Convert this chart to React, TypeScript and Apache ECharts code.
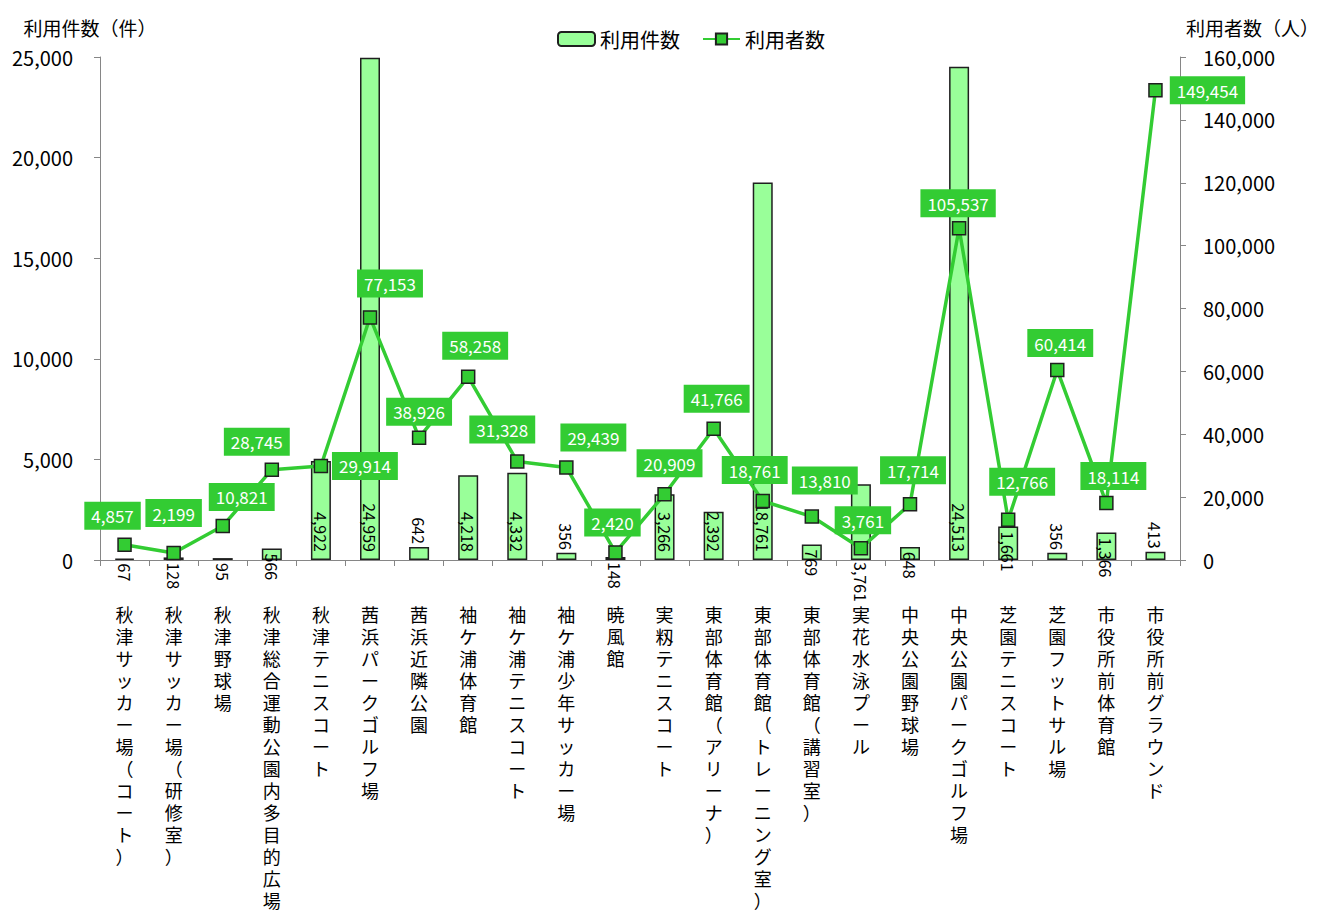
import React, { useEffect, useRef } from 'react';
import * as echarts from 'echarts';

const categories = [
  '秋津サッカー場（コート）',
  '秋津サッカー場（研修室）',
  '秋津野球場',
  '秋津総合運動公園内多目的広場',
  '秋津テニスコート',
  '茜浜パークゴルフ場',
  '茜浜近隣公園',
  '袖ケ浦体育館',
  '袖ケ浦テニスコート',
  '袖ケ浦少年サッカー場',
  '暁風館',
  '実籾テニスコート',
  '東部体育館（アリーナ）',
  '東部体育館（トレーニング室）',
  '東部体育館（講習室）',
  '実花水泳プール',
  '中央公園野球場',
  '中央公園パークゴルフ場',
  '芝園テニスコート',
  '芝園フットサル場',
  '市役所前体育館',
  '市役所前グラウンド',
];

const usageCount = [67, 128, 95, 566, 4922, 24959, 642, 4218, 4332, 356, 148, 3266, 2392, 18761, 769, 3761, 648, 24513, 1661, 356, 1366, 413];

const userCount = [4857, 2199, 10821, 28745, 29914, 77153, 38926, 58258, 31328, 29439, 2420, 20909, 41766, 18761, 13810, 3761, 17714, 105537, 12766, 60414, 18114, 149454];

const leftAxisName = '利用件数（件）';
const rightAxisName = '利用者数（人）';
const barSeriesName = '利用件数';
const lineSeriesName = '利用者数';
const leftMax = 25000;
const leftInterval = 5000;
const rightMax = 160000;
const rightInterval = 20000;

// label placement (layout only)
const barLabelMode = ['down', 'down', 'down', 'down', 'in', 'in', 'up', 'in', 'in', 'up', 'down', 'in', 'in', 'in', 'down', 'below', 'down', 'in', 'down', 'up', 'down', 'up'];
const lineLabelOffset: [number, number][] = [
  [-12, -29], [0, -40], [19, -29], [-15, -28], [44, 0], [20, -34], [0, -26], [7, -31], [-15, -32], [27, -30], [-3, -30],
  [5, -31], [3, -30], [-8, -31], [13, -36], [2, -28], [3, -34], [-1, -25], [14, -38], [3, -27], [7, -27], [52, 0],
];

const FONT = '"Noto Sans CJK JP", "Noto Sans", sans-serif';
const CAT_FONT = '"Liberation Sans", "Noto Sans CJK JP", sans-serif';
const fmt = (v: number) => v.toLocaleString('en-US');

function barLabel(mode: string) {
  const base = { show: true, rotate: -90, color: '#000', fontSize: 16, fontFamily: FONT, verticalAlign: 'middle', formatter: (p: any) => fmt(p.value) };
  if (mode === 'in') return { ...base, position: 'insideBottom', align: 'right', distance: 8 };
  if (mode === 'up') return { ...base, position: 'top', align: 'right', distance: 3 };
  if (mode === 'below') return { ...base, position: 'insideBottom', align: 'left', distance: -2 };
  return { ...base, position: 'insideTop', align: 'left', distance: 5 };
}

export default function App() {
  const ref = useRef<HTMLDivElement>(null);
  useEffect(() => {
    document.body.style.margin = '0';
    document.body.style.overflow = 'hidden';
    const chart = echarts.init(ref.current!, null, { renderer: 'svg' });
    const axisLineStyle = { color: '#868686', width: 1 };
    chart.setOption({
      animation: false,
      backgroundColor: '#fff',
      textStyle: { fontFamily: FONT },
      legend: {
        top: 24,
        left: 552,
        itemWidth: 37,
        itemHeight: 14,
        itemGap: 22,
        textStyle: { fontSize: 20, color: '#000', fontFamily: FONT },
        data: [barSeriesName, lineSeriesName],
      },
      grid: { left: 100, right: 143, top: 57, bottom: 356, containLabel: false },
      xAxis: {
        type: 'category',
        data: categories,
        axisLine: { lineStyle: axisLineStyle },
        axisTick: { show: true, length: 6, lineStyle: axisLineStyle, alignWithLabel: false },
        axisLabel: {
          interval: 0,
          margin: 45,
          fontSize: 18,
          lineHeight: 22,
          color: '#000',
          fontFamily: CAT_FONT,
          verticalAlign: 'top',
          formatter: (v: string) => v.split('').join('\n'),
        },
      },
      yAxis: [
        {
          type: 'value',
          min: 0,
          max: leftMax,
          interval: leftInterval,
          name: leftAxisName,
          nameLocation: 'end',
          nameGap: 20,
          nameTextStyle: { fontSize: 19, color: '#000', fontFamily: FONT, align: 'center', padding: [0, 20, 0, 0] },
          axisLine: { show: true, lineStyle: axisLineStyle },
          axisTick: { show: true, length: 6, lineStyle: axisLineStyle },
          splitLine: { show: false },
          axisLabel: { fontSize: 20, color: '#000', margin: 27, fontFamily: FONT, formatter: (v: number) => fmt(v) },
        },
        {
          type: 'value',
          min: 0,
          max: rightMax,
          interval: rightInterval,
          name: rightAxisName,
          nameLocation: 'end',
          nameGap: 20,
          nameTextStyle: { fontSize: 19, color: '#000', fontFamily: FONT, align: 'left', padding: [0, 0, 0, 6] },
          axisLine: { show: true, lineStyle: axisLineStyle },
          axisTick: { show: true, length: 6, lineStyle: axisLineStyle },
          splitLine: { show: false },
          axisLabel: { fontSize: 20, color: '#000', margin: 23, fontFamily: FONT, formatter: (v: number) => fmt(v) },
        },
      ],
      series: [
        {
          name: barSeriesName,
          type: 'bar',
          yAxisIndex: 0,
          barWidth: 20,
          itemStyle: { color: '#99FF99', borderColor: '#1f1f1f', borderWidth: 1.5 },
          data: usageCount.map((v, i) => ({ value: v, label: barLabel(barLabelMode[i]) })),
        },
        {
          name: lineSeriesName,
          type: 'line',
          yAxisIndex: 1,
          symbol: 'rect',
          symbolSize: 13,
          lineStyle: { color: '#33CC33', width: 3.5 },
          itemStyle: { color: '#33CC33', borderColor: '#1f1f1f', borderWidth: 1.5 },
          z: 5,
          data: userCount.map((v, i) => ({
            value: v,
            label: {
              show: true,
              position: 'inside',
              align: 'center',
              verticalAlign: 'middle',
              offset: lineLabelOffset[i],
              backgroundColor: '#33CC33',
              color: '#fff',
              fontSize: 17,
              fontFamily: FONT,
              padding: [6, 7, 5, 7],
              formatter: (p: any) => fmt(p.value),
            },
          })),
        },
      ],
    });
    return () => chart.dispose();
  }, []);
  return <div ref={ref} style={{ width: 1323, height: 916 }} />;
}
